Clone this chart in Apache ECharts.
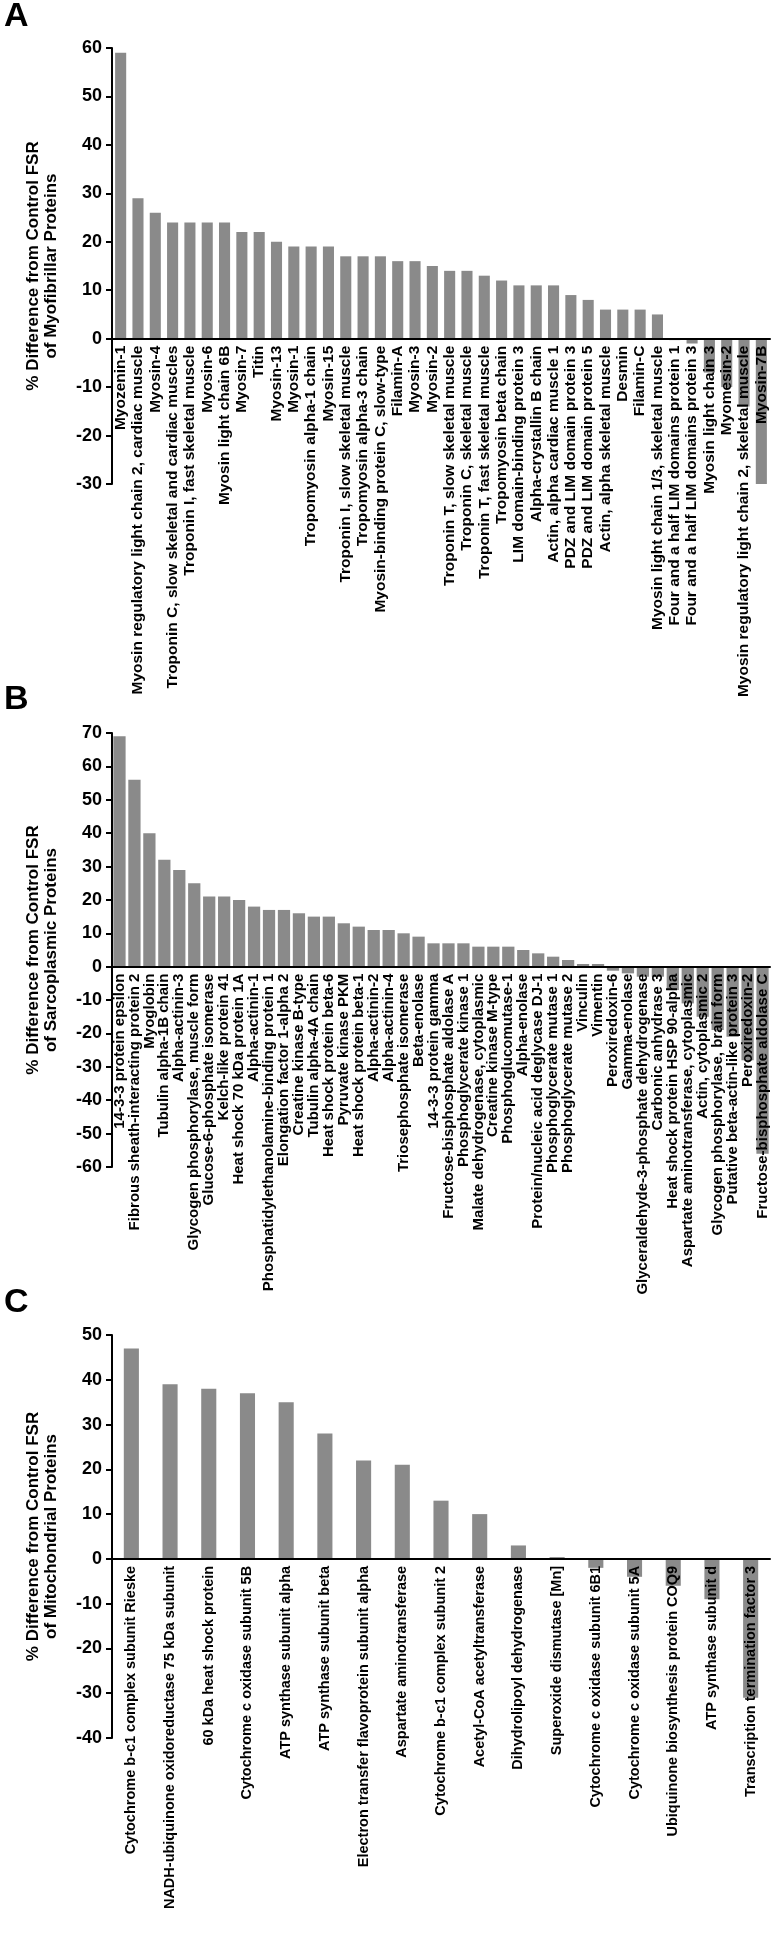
<!DOCTYPE html>
<html>
<head>
<meta charset="utf-8">
<script src="https://cdn.jsdelivr.net/npm/echarts@6/dist/echarts.min.js"></script>
<style>
  html, body { margin: 0; padding: 0; background: #fff; }
  #chart { width: 772px; height: 1950px; }
</style>
</head>
<body>
<div id="chart"></div>
<script>
// Panel A - myofibrillar proteins
const myofibrillarNames = [
  'Myozenin-1', 'Myosin regulatory light chain 2, cardiac muscle', 'Myosin-4',
  'Troponin C, slow skeletal and cardiac muscles', 'Troponin I, fast skeletal muscle',
  'Myosin-6', 'Myosin light chain 6B', 'Myosin-7', 'Titin', 'Myosin-13', 'Myosin-1',
  'Tropomyosin alpha-1 chain', 'Myosin-15', 'Troponin I, slow skeletal muscle',
  'Tropomyosin alpha-3 chain', 'Myosin-binding protein C, slow-type', 'Filamin-A',
  'Myosin-3', 'Myosin-2', 'Troponin T, slow skeletal muscle', 'Troponin C, skeletal muscle',
  'Troponin T, fast skeletal muscle', 'Tropomyosin beta chain', 'LIM domain-binding protein 3',
  'Alpha-crystallin B chain', 'Actin, alpha cardiac muscle 1', 'PDZ and LIM domain protein 3',
  'PDZ and LIM domain protein 5', 'Actin, alpha skeletal muscle', 'Desmin', 'Filamin-C',
  'Myosin light chain 1/3, skeletal muscle', 'Four and a half LIM domains protein 1',
  'Four and a half LIM domains protein 3', 'Myosin light chain 3', 'Myomesin-2',
  'Myosin regulatory light chain 2, skeletal muscle', 'Myosin-7B'
];
const myofibrillarDiff = [
  59, 29, 26, 24, 24, 24, 24, 22, 22, 20, 19, 19, 19, 17, 17, 17, 16, 16, 15, 14, 14,
  13, 12, 11, 11, 11, 9, 8, 6, 6, 6, 5, -0.3, -1, -7, -10, -14, -30
];
const myofibrillarTicks = [-30, -20, -10, 0, 10, 20, 30, 40, 50, 60];

// Panel B - sarcoplasmic proteins
const sarcoplasmicNames = [
  '14-3-3 protein epsilon', 'Fibrous sheath-interacting protein 2', 'Myoglobin',
  'Tubulin alpha-1B chain', 'Alpha-actinin-3', 'Glycogen phosphorylase, muscle form',
  'Glucose-6-phosphate isomerase', 'Kelch-like protein 41', 'Heat shock 70 kDa protein 1A',
  'Alpha-actinin-1', 'Phosphatidylethanolamine-binding protein 1', 'Elongation factor 1-alpha 2',
  'Creatine kinase B-type', 'Tubulin alpha-4A chain', 'Heat shock protein beta-6',
  'Pyruvate kinase PKM', 'Heat shock protein beta-1', 'Alpha-actinin-2', 'Alpha-actinin-4',
  'Triosephosphate isomerase', 'Beta-enolase', '14-3-3 protein gamma',
  'Fructose-bisphosphate aldolase A', 'Phosphoglycerate kinase 1',
  'Malate dehydrogenase, cytoplasmic', 'Creatine kinase M-type', 'Phosphoglucomutase-1',
  'Alpha-enolase', 'Protein/nucleic acid deglycase DJ-1', 'Phosphoglycerate mutase 1',
  'Phosphoglycerate mutase 2', 'Vinculin', 'Vimentin', 'Peroxiredoxin-6', 'Gamma-enolase',
  'Glyceraldehyde-3-phosphate dehydrogenase', 'Carbonic anhydrase 3',
  'Heat shock protein HSP 90-alpha', 'Aspartate aminotransferase, cytoplasmic',
  'Actin, cytoplasmic 2', 'Glycogen phosphorylase, brain form',
  'Putative beta-actin-like protein 3', 'Peroxiredoxin-2', 'Fructose-bisphosphate aldolase C'
];
const sarcoplasmicDiff = [
  69, 56, 40, 32, 29, 25, 21, 21, 20, 18, 17, 17, 16, 15, 15, 13, 12, 11, 11, 10, 9,
  7, 7, 7, 6, 6, 6, 5, 4, 3, 2, 0.8, 0.8, -1.2, -2, -3, -3, -7, -11, -15, -19, -21, -28, -56
];
const sarcoplasmicTicks = [-60, -50, -40, -30, -20, -10, 0, 10, 20, 30, 40, 50, 60, 70];

// Panel C - mitochondrial proteins
const mitochondrialNames = [
  'Cytochrome b-c1 complex subunit Rieske', 'NADH-ubiquinone oxidoreductase 75 kDa subunit',
  '60 kDa heat shock protein', 'Cytochrome c oxidase subunit 5B', 'ATP synthase subunit alpha',
  'ATP synthase subunit beta', 'Electron transfer flavoprotein subunit alpha',
  'Aspartate aminotransferase', 'Cytochrome b-c1 complex subunit 2',
  'Acetyl-CoA acetyltransferase', 'Dihydrolipoyl dehydrogenase', 'Superoxide dismutase [Mn]',
  'Cytochrome c oxidase subunit 6B1', 'Cytochrome c oxidase subunit 5A',
  'Ubiquinone biosynthesis protein COQ9', 'ATP synthase subunit d',
  'Transcription termination factor 3'
];
const mitochondrialDiff = [47, 39, 38, 37, 35, 28, 22, 21, 13, 10, 3, 0.4, -2, -4, -6, -9, -31];
const mitochondrialTicks = [-40, -30, -20, -10, 0, 10, 20, 30, 40, 50];

const FONT = '"Liberation Sans", Arial, sans-serif';
const BAR = '#8a8a8a';

const panels = [
  { letter: 'A', letterTop: 0, top: 48, height: 436, gap: '36%', labelSize: 15.5,
    names: myofibrillarNames, values: myofibrillarDiff, ticks: myofibrillarTicks,
    title: '% Difference from Control FSR\nof Myofibrillar Proteins' },
  { letter: 'B', letterTop: 683, top: 733, height: 434, gap: '18%', labelSize: 15,
    names: sarcoplasmicNames, values: sarcoplasmicDiff, ticks: sarcoplasmicTicks,
    title: '% Difference from Control FSR\nof Sarcoplasmic Proteins' },
  { letter: 'C', letterTop: 1286, top: 1335, height: 403, gap: '61%', labelSize: 14.5,
    names: mitochondrialNames, values: mitochondrialDiff, ticks: mitochondrialTicks,
    title: '% Difference from Control FSR\nof Mitochondrial Proteins' }
];

// category axis sits on the zero line, labels hang below it
function zeroOffset(p) {
  const lo = p.ticks[0], hi = p.ticks[p.ticks.length - 1];
  return -p.height * (0 - lo) / (hi - lo);
}

const chart = echarts.init(document.getElementById('chart'), null, { renderer: 'canvas' });

const option = {
  animation: false,
  backgroundColor: '#fff',
  textStyle: { fontFamily: FONT },
  title: panels.map(p => ({
    text: p.letter,
    left: 4,
    top: p.letterTop,
    padding: 0,
    textStyle: { fontSize: 34, fontWeight: 'bold', color: '#000', fontFamily: FONT }
  })),
  grid: panels.map(p => ({
    left: 112,
    width: 658,
    top: p.top,
    height: p.height,
    containLabel: false,
    outerBoundsMode: 'none'
  })),
  xAxis: panels.map((p, i) => ({
    type: 'category',
    gridIndex: i,
    data: p.names,
    position: 'bottom',
    offset: zeroOffset(p),
    z: 5,
    axisLine: { onZero: false, lineStyle: { color: '#000', width: 2 } },
    axisTick: { alignWithLabel: true, length: 5, lineStyle: { color: '#000', width: 1.5 } },
    axisLabel: {
      rotate: 90,
      interval: 0,
      margin: 7,
      color: '#000',
      fontSize: p.labelSize,
      fontWeight: 'bold',
      fontFamily: FONT
    },
    splitLine: { show: false }
  })),
  yAxis: panels.map((p, i) => ({
    type: 'value',
    gridIndex: i,
    min: p.ticks[0],
    max: p.ticks[p.ticks.length - 1],
    interval: p.ticks[1] - p.ticks[0],
    z: 5,
    splitLine: { show: false },
    axisLine: { show: true, onZero: false, lineStyle: { color: '#000', width: 2 } },
    axisTick: { show: true, length: 6, lineStyle: { color: '#000', width: 2 } },
    axisLabel: { color: '#000', fontSize: 18, fontWeight: 'bold', margin: 10, fontFamily: FONT },
    name: p.title,
    nameLocation: 'middle',
    nameRotate: 90,
    nameGap: 52,
    nameTextStyle: { fontSize: 17, fontWeight: 'bold', color: '#000', lineHeight: 18, fontFamily: FONT }
  })),
  series: panels.map((p, i) => ({
    type: 'bar',
    xAxisIndex: i,
    yAxisIndex: i,
    z: 1,
    data: p.values,
    barCategoryGap: p.gap,
    itemStyle: { color: BAR },
    silent: true
  }))
};

chart.setOption(option);
</script>
</body>
</html>
